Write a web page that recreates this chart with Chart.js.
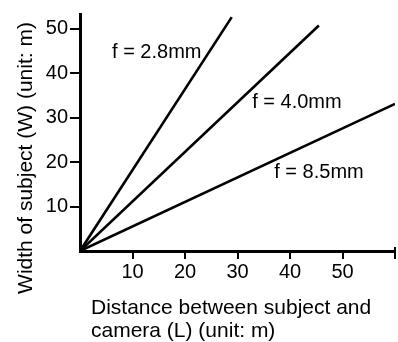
<!DOCTYPE html>
<html>
<head>
<meta charset="utf-8">
<script src="https://cdn.jsdelivr.net/npm/chart.js@4/dist/chart.umd.min.js"></script>
<style>
  html, body { margin: 0; padding: 0; background: #fff; }
  #c { display: block; }
</style>
</head>
<body>
<canvas id="c" width="398" height="342"></canvas>
<script>
// ---- data ----
const focalLabels = ['f = 2.8mm', 'f = 4.0mm', 'f = 8.5mm'];
const lineStartL = [0, 0, 0];
const lineStartW = [0, 0, 0];
const lineEndL = [28.9, 45.5, 60];     // distance L (m) at end of each line
const lineEndW = [52.6, 50.7, 33.1];   // width W (m) at end of each line
const xTickValues = [10, 20, 30, 40, 50, 60];
const xTickLabels = ['10', '20', '30', '40', '50', ''];
const yTickValues = [10, 20, 30, 40, 50];
const yTickLabels = ['10', '20', '30', '40', '50'];
const xTitleLines = ['Distance between subject and', 'camera (L) (unit: m)'];
const yTitle = 'Width of subject (W) (unit: m)';
// label anchor points (data units) for the line annotations
const labelAnchorL = [6.1, 32.8, 37.0];
const labelAnchorW = [43.4, 32.1, 16.4];

const FONT = '"Liberation Sans", Arial, Helvetica, sans-serif';

const datasets = focalLabels.map((lab, i) => ({
  label: lab,
  data: [{x: lineStartL[i], y: lineStartW[i]}, {x: lineEndL[i], y: lineEndW[i]}],
  borderColor: '#000',
  borderWidth: 2.6,
  pointRadius: 0,
  tension: 0,
  fill: false
}));

const annotPlugin = {
  id: 'annot',
  afterDraw(chart) {
    const ctx = chart.ctx;
    const xs = chart.scales.x, ys = chart.scales.y;
    ctx.save();
    ctx.fillStyle = '#000';
    ctx.strokeStyle = '#000';
    // end marker at last x tick extends above axis too
    const xe = xs.getPixelForValue(xTickValues[xTickValues.length - 1]);
    ctx.lineWidth = 2;
    ctx.beginPath();
    ctx.moveTo(xe, ys.bottom - 4);
    ctx.lineTo(xe, ys.bottom);
    ctx.stroke();
    // line labels
    ctx.font = '20px ' + FONT;
    ctx.textBaseline = 'alphabetic';
    ctx.textAlign = 'left';
    focalLabels.forEach((lab, i) => {
      ctx.fillText(lab, xs.getPixelForValue(labelAnchorL[i]), ys.getPixelForValue(labelAnchorW[i]));
    });
    // x title (left aligned two lines)
    ctx.font = '21px ' + FONT;
    ctx.fillText(xTitleLines[0], 91, 314);
    ctx.fillText(xTitleLines[1], 91, 337);
    // y title rotated
    ctx.translate(32, 158);
    ctx.rotate(-Math.PI / 2);
    ctx.textAlign = 'center';
    ctx.font = '21px ' + FONT;
    ctx.fillText(yTitle, 0, 0);
    ctx.restore();
  }
};

new Chart(document.getElementById('c'), {
  type: 'line',
  data: { datasets },
  plugins: [annotPlugin],
  options: {
    responsive: false,
    animation: false,
    devicePixelRatio: 1,
    layout: { padding: { top: 10, right: 3, left: 0, bottom: 0 } },
    plugins: { legend: { display: false }, tooltip: { enabled: false } },
    scales: {
      x: {
        type: 'linear',
        min: 0, max: 60,
        afterBuildTicks: s => { s.ticks = xTickValues.map(v => ({ value: v })); },
        afterFit: s => { s.height = 91; },
        border: { color: '#000', width: 3 },
        grid: { drawOnChartArea: false, drawTicks: true, tickLength: 8, color: '#000', lineWidth: 2 },
        ticks: {
          color: '#000',
          font: { family: FONT, size: 20 },
          padding: 1,
          maxRotation: 0,
          autoSkip: false,
          callback: (v, i) => xTickLabels[i]
        }
      },
      y: {
        type: 'linear',
        min: 0, max: 53.3,
        afterBuildTicks: s => { s.ticks = yTickValues.map(v => ({ value: v })); },
        afterFit: s => { s.width = 80; },
        border: { color: '#000', width: 3 },
        grid: { drawOnChartArea: false, drawTicks: true, tickLength: 10, color: '#000', lineWidth: 2 },
        ticks: {
          color: '#000',
          font: { family: FONT, size: 20 },
          padding: 2,
          autoSkip: false,
          callback: (v, i) => yTickLabels[i]
        }
      }
    }
  }
});
</script>
</body>
</html>
